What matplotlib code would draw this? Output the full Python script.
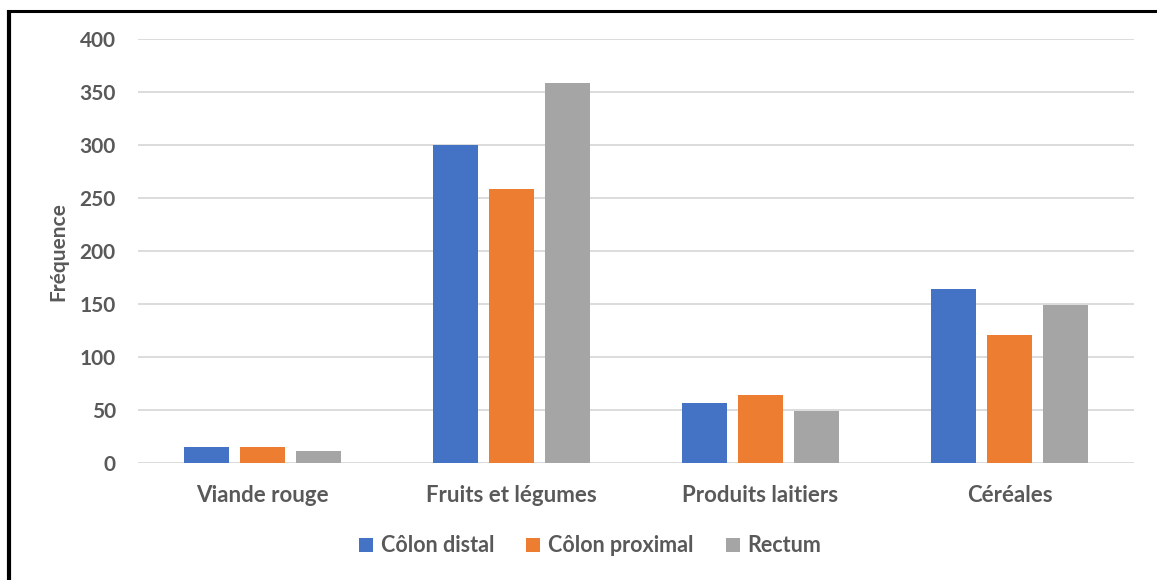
import numpy as np
import matplotlib
matplotlib.use("Agg")
import matplotlib.pyplot as plt
from matplotlib.lines import Line2D
from matplotlib.patches import Patch

categories = ["Viande rouge", "Fruits et légumes", "Produits laitiers", "Céréales"]
series_names = ["Côlon distal", "Côlon proximal", "Rectum"]
colon_distal = [15, 300, 56, 164]
colon_proximal = [15, 258, 64, 121]
rectum = [11, 358, 49, 149]
y_ticks = [0, 50, 100, 150, 200, 250, 300, 350, 400]

COLORS = ["#4472C4", "#ED7D31", "#A5A5A5"]
TEXT_COLOR = "#595959"
GRID_COLOR = "#D9D9D9"

W, H = 1157, 580
plt.rcParams["font.family"] = ["Lato", "DejaVu Sans"]
plt.rcParams["font.weight"] = "bold"

fig = plt.figure(figsize=(W / 100, H / 100), dpi=100)
fig.patch.set_facecolor("white")

# plot area in pixel coordinates
left, right, top, bottom = 138, 1134, 39, 462.7
ax = fig.add_axes([left / W, 1 - bottom / H, (right - left) / W, (bottom - top) / H])

x = np.arange(len(categories))
bar_w = 0.177
step = 0.225
for i, (vals, color) in enumerate(zip([colon_distal, colon_proximal, rectum], COLORS)):
    ax.bar(x + (i - 1) * step, vals, width=bar_w, color=color, zorder=3)

ax.set_xlim(-0.5, len(categories) - 0.5)
ax.set_ylim(0, 400)
ax.set_yticks(y_ticks)
ax.set_xticks(x)
ax.set_xticklabels(categories)
ax.yaxis.grid(True, color=GRID_COLOR, linewidth=1.3, zorder=0)
ax.set_axisbelow(True)
for spine in ax.spines.values():
    spine.set_visible(False)
ax.tick_params(axis="both", length=0, colors=TEXT_COLOR)
ax.tick_params(axis="y", pad=16, labelsize=15)
ax.tick_params(axis="x", pad=16, labelsize=16)
for lbl in ax.get_xticklabels() + ax.get_yticklabels():
    lbl.set_fontweight("bold")

fig.text(58 / W, 1 - 252 / H, "Fréquence", rotation=90, ha="center", va="center",
         fontsize=15, fontweight="bold", color=TEXT_COLOR)

handles = [Patch(facecolor=c, edgecolor="none") for c in COLORS]
leg = fig.legend(handles, series_names, loc="center", bbox_to_anchor=(590 / W, 1 - 546 / H),
                 ncol=3, frameon=False, fontsize=15.5, handlelength=0.65, handleheight=0.65,
                 handletextpad=0.35, columnspacing=1.5)
for t in leg.get_texts():
    t.set_color(TEXT_COLOR)
    t.set_fontweight("bold")

# black frame on the top and left edges
fig.add_artist(Line2D([7 / W, 1], [1 - 11 / H, 1 - 11 / H], transform=fig.transFigure,
                      color="black", linewidth=2.2, solid_capstyle="butt"))
fig.add_artist(Line2D([9 / W, 9 / W], [0, 1 - 10 / H], transform=fig.transFigure,
                      color="black", linewidth=3, solid_capstyle="butt"))

fig.savefig("out.png", dpi=100)
